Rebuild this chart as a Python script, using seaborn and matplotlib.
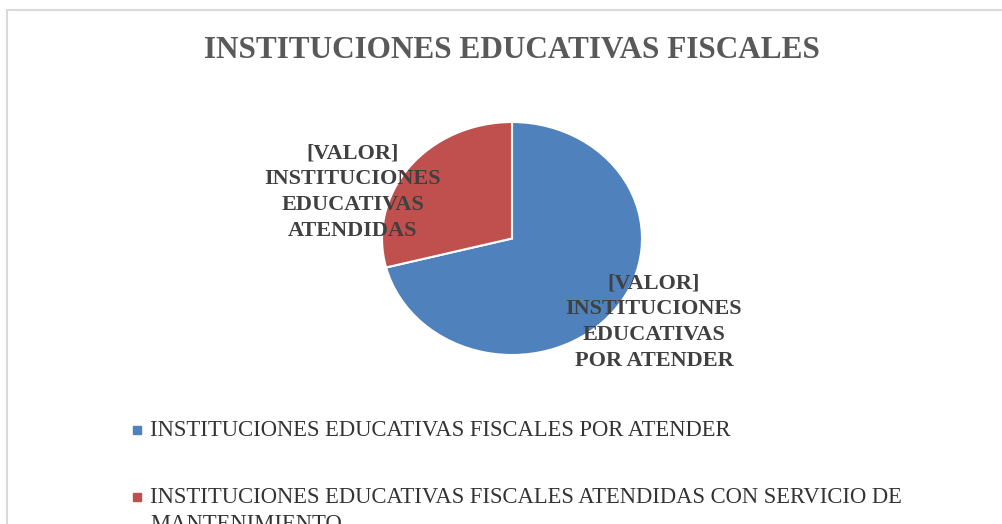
import matplotlib
matplotlib.use("Agg")
import matplotlib.pyplot as plt
from matplotlib.patches import Rectangle
import seaborn as sns

# datos
categorias = ["INSTITUCIONES EDUCATIVAS FISCALES POR ATENDER",
              "INSTITUCIONES EDUCATIVAS FISCALES ATENDIDAS CON SERVICIO DE\nMANTENIMIENTO"]
valores = [71, 29]
etiquetas = ["[VALOR]\nINSTITUCIONES\nEDUCATIVAS\nPOR ATENDER",
             "[VALOR]\nINSTITUCIONES\nEDUCATIVAS\nATENDIDAS"]
colores = ["#4F81BD", "#C0504D"]
titulo = "INSTITUCIONES EDUCATIVAS FISCALES"

sns.set_theme(style="white")
plt.rcParams['font.family'] = ['Liberation Serif', 'DejaVu Serif']

W, H = 1003, 524
fig = plt.figure(figsize=(W / 100, H / 100), dpi=100)

# borde del area del grafico
fig.patches.append(Rectangle((7 / W, -0.1), 1.2, (H - 10) / H + 0.1, transform=fig.transFigure,
                             fill=False, edgecolor="#D9D9D9", linewidth=1.5))

# pastel (un poco achatado como en el original)
cx, cy, rx, ry = 512, 238.5, 130, 116.5
ax = fig.add_axes([(cx - rx) / W, (H - cy - ry) / H, 2 * rx / W, 2 * ry / H])
ax.pie(valores, colors=colores, startangle=90, counterclock=False, radius=1,
       wedgeprops=dict(edgecolor="white", linewidth=1.5))
ax.set_xlim(-1, 1)
ax.set_ylim(-1, 1)
ax.set_aspect("auto")
ax.axis("off")

# etiquetas de datos
pos = [(1.092, -0.717), (-1.223, 0.399)]
for (x, y), txt in zip(pos, etiquetas):
    ax.text(x, y, txt, ha="center", va="center", fontsize=16, fontweight="bold",
            color="#404040", linespacing=1.4, clip_on=False)

fig.text(512 / W, 1 - 50 / H, titulo, ha="center", va="center", fontsize=22.5,
         fontweight="bold", color="#595959")

# leyenda (la ultima linea queda cortada por el borde, como en el original)
ys = [430, 497]
for y, nombre, c in zip(ys, categorias, colores):
    fig.patches.append(Rectangle((133 / W, 1 - (y + 4) / H), 8 / W, 8 / H,
                                 transform=fig.transFigure, color=c))
    fig.text(150 / W, 1 - (y - 10) / H, nombre, ha="left", va="top", fontsize=16.3,
             color="#333333", linespacing=1.4)

fig.savefig("out.png", dpi=100)
